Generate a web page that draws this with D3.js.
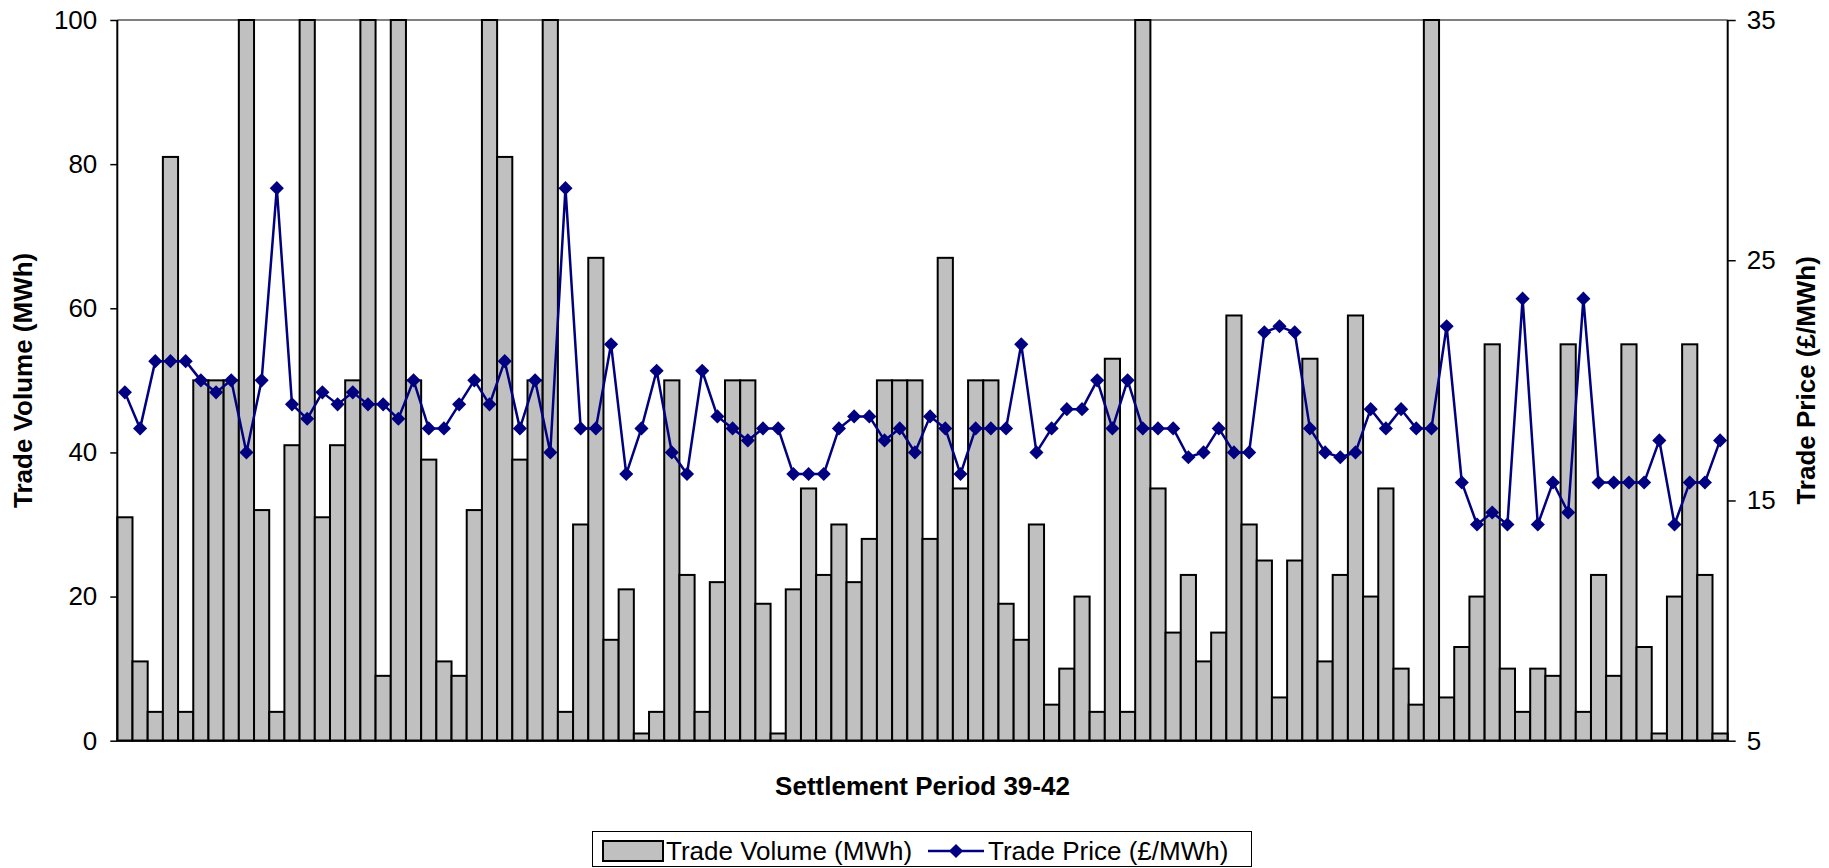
<!DOCTYPE html>
<html>
<head>
<meta charset="utf-8">
<script src="https://cdn.jsdelivr.net/npm/d3@7"></script>
<style>
  html, body { margin: 0; padding: 0; background: #fff; }
  svg { display: block; }
  text { font-family: "Liberation Sans", Arial, sans-serif; fill: #000; }
</style>
</head>
<body>
<svg id="chart" width="1829" height="868"></svg>
<script>
const categories = d3.range(1, 107);

const volumes = [
  31, 11, 4, 81, 4, 50, 50, 50, 100, 32, 4, 41, 100, 31, 41, 50, 100, 9, 100, 50, 39,
  11, 9, 32, 100, 81, 39, 50, 100, 4, 30, 67, 14, 21, 1, 4, 50, 23, 4, 22, 50, 50, 19,
  1, 21, 35, 23, 30, 22, 28, 50, 50, 50, 28, 67, 35, 50, 50, 19, 14, 30, 5, 10, 20,
  4, 53, 4, 100, 35, 15, 23, 11, 15, 59, 30, 25, 6, 25, 53, 11, 23, 59, 20, 35, 10,
  5, 100, 6, 13, 20, 55, 10, 4, 10, 9, 55, 4, 23, 9, 55, 13, 1, 20, 55, 23, 1
];

const prices = [
  19.5, 18.0, 20.8, 20.8, 20.8, 20.0, 19.5, 20.0, 17.0, 20.0, 28.0, 19.0, 18.4, 19.5, 19.0, 19.5, 19.0, 19.0, 18.4, 20.0, 18.0,
  18.0, 19.0, 20.0, 19.0, 20.8, 18.0, 20.0, 17.0, 28.0, 18.0, 18.0, 21.5, 16.1, 18.0, 20.4, 17.0, 16.1, 20.4, 18.5, 18.0, 17.5,
  18.0, 18.0, 16.1, 16.1, 16.1, 18.0, 18.5, 18.5, 17.5, 18.0, 17.0, 18.5, 18.0, 16.1, 18.0, 18.0, 18.0, 21.5, 17.0, 18.0, 18.8,
  18.8, 20.0, 18.0, 20.0, 18.0, 18.0, 18.0, 16.8, 17.0, 18.0, 17.0, 17.0, 22.0, 22.25, 22.0, 18.0, 17.0, 16.8, 17.0, 18.8, 18.0, 18.8,
  18.0, 18.0, 22.25, 15.75, 14.0, 14.5, 14.0, 23.4, 14.0, 15.75, 14.5, 23.4, 15.75, 15.75, 15.75, 15.75, 17.5, 14.0, 15.75, 15.75, 17.5
];

const leftTicks = [0, 20, 40, 60, 80, 100];
const rightTicks = [5, 15, 25, 35];

const seriesNames = ["Trade Volume (MWh)", "Trade Price (£/MWh)"];
const xTitle = "Settlement Period 39-42";

const svg = d3.select("#chart");
const L = 117.3, R = 1727.7, T = 20, B = 740.7;
const FS = 26;

const x = d3.scaleBand().domain(categories).range([L, R]).padding(0);
const yL = d3.scaleLinear().domain([0, 100]).range([B, T]);
const yR = d3.scaleLinear().domain([5, 35]).range([B, T]);

// top border
svg.append("line").attr("x1", L).attr("x2", R).attr("y1", T).attr("y2", T)
  .attr("stroke", "#808080").attr("stroke-width", 2);

// bars
svg.append("g").selectAll("rect").data(categories).join("rect")
  .attr("x", (d) => x(d))
  .attr("width", x.bandwidth())
  .attr("y", (d, i) => yL(volumes[i]))
  .attr("height", (d, i) => B - yL(volumes[i]))
  .attr("fill", "#C0C0C0")
  .attr("stroke", "#000")
  .attr("stroke-width", 2);

// axes
const axL = svg.append("g").attr("transform", `translate(${L},0)`)
  .call(d3.axisLeft(yL).tickValues(leftTicks).tickSize(7).tickPadding(13));
const axR = svg.append("g").attr("transform", `translate(${R},0)`)
  .call(d3.axisRight(yR).tickValues(rightTicks).tickSize(8).tickPadding(11));
[axL, axR].forEach(g => {
  g.select(".domain").remove();
  g.selectAll(".tick line").attr("stroke", "#000").attr("stroke-width", 1.5);
  g.selectAll(".tick text").attr("font-size", FS)
    .attr("font-family", '"Liberation Sans", Arial, sans-serif').attr("fill", "#000");
});
svg.append("line").attr("x1", L).attr("x2", L).attr("y1", T).attr("y2", B)
  .attr("stroke", "#000").attr("stroke-width", 2);
svg.append("line").attr("x1", R).attr("x2", R).attr("y1", T).attr("y2", B)
  .attr("stroke", "#000").attr("stroke-width", 2);
svg.append("line").attr("x1", L).attr("x2", R).attr("y1", B).attr("y2", B)
  .attr("stroke", "#000").attr("stroke-width", 2);

// price line
const cx = (d) => x(d) + x.bandwidth() / 2;
const line = d3.line().x((d) => cx(d)).y((d, i) => yR(prices[i]));
svg.append("path").datum(categories).attr("d", line)
  .attr("fill", "none").attr("stroke", "#000080").attr("stroke-width", 2.5)
  .attr("stroke-linejoin", "round");

const diamond = d3.symbol().type(d3.symbolSquare).size(100);
svg.append("g").selectAll("path").data(categories).join("path")
  .attr("d", diamond)
  .attr("transform", (d, i) => `translate(${cx(d)},${yR(prices[i])}) rotate(45)`)
  .attr("fill", "#000080");

// axis titles
svg.append("text").attr("transform", `translate(32,${(T + B) / 2}) rotate(-90)`)
  .attr("text-anchor", "middle").attr("font-size", FS).attr("font-weight", "bold")
  .text("Trade Volume (MWh)");
svg.append("text").attr("transform", `translate(1815,${(T + B) / 2}) rotate(-90)`)
  .attr("text-anchor", "middle").attr("font-size", FS).attr("font-weight", "bold")
  .text("Trade Price (£/MWh)");
svg.append("text").attr("x", (L + R) / 2).attr("y", 795)
  .attr("text-anchor", "middle").attr("font-size", FS).attr("font-weight", "bold")
  .text(xTitle);

// legend
const lg = svg.append("g");
lg.append("rect").attr("x", 592.5).attr("y", 831.5).attr("width", 659).attr("height", 35)
  .attr("fill", "#fff").attr("stroke", "#000").attr("stroke-width", 1);
lg.append("rect").attr("x", 603).attr("y", 841).attr("width", 60).attr("height", 20)
  .attr("fill", "#C0C0C0").attr("stroke", "#000").attr("stroke-width", 2);
lg.append("text").attr("x", 666).attr("y", 860).attr("font-size", FS).text(seriesNames[0]);
lg.append("line").attr("x1", 928).attr("x2", 984).attr("y1", 851).attr("y2", 851)
  .attr("stroke", "#000080").attr("stroke-width", 2.5);
lg.append("path").attr("d", diamond).attr("transform", "translate(956,851) rotate(45)")
  .attr("fill", "#000080");
lg.append("text").attr("x", 988).attr("y", 860).attr("font-size", FS).text(seriesNames[1]);
</script>
</body>
</html>
